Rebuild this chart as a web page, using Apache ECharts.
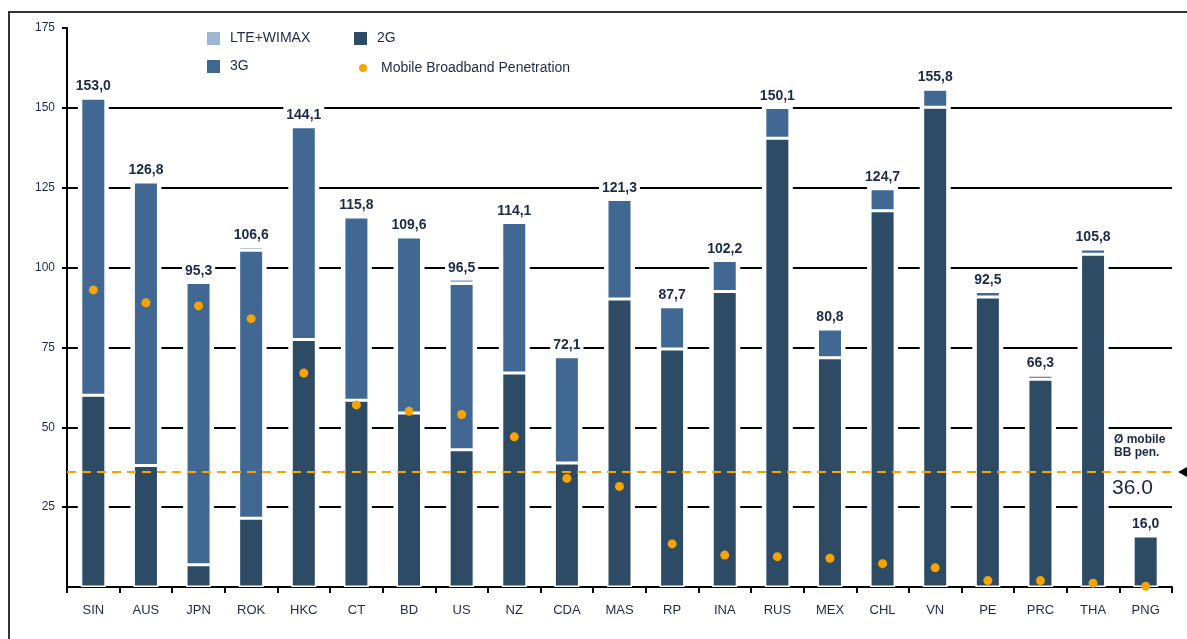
<!DOCTYPE html>
<html><head><meta charset="utf-8">
<script src="https://cdn.jsdelivr.net/npm/echarts@6/dist/echarts.min.js"></script>
<style>html,body{margin:0;padding:0;background:#fff}#c{width:1187px;height:639px}</style>
</head><body><div id="c"></div>
<script>
const categories = ['SIN','AUS','JPN','ROK','HKC','CT','BD','US','NZ','CDA','MAS','RP','INA','RUS','MEX','CHL','VN','PE','PRC','THA','PNG'];
const totals = [153.0,126.8,95.3,106.6,144.1,115.8,109.6,96.5,114.1,72.1,121.3,87.7,102.2,150.1,80.8,124.7,155.8,92.5,66.3,105.8,16.0];
const values2G = [60,38,7,21.5,77.5,58.5,54.5,43,67,38.8,90.2,74.5,92.5,140.5,71.8,117.8,150.2,90.8,65,104.2,16];
const values3G = [93,88.8,88.3,83.9,66.6,57.3,55.1,52,47.1,33.3,31.1,13.2,9.7,9.6,9,6.9,5.6,1.7,1.3,1.6,0];
const valuesLTE = [0,0,0,1.2,0,0,0,1.5,0,0,0,0,0,0,0,0,0,0,0,0,0];
const penetration = [93,89,88,84,67,57,55,54,47,34,31.5,13.5,10,9.5,9,7.3,6,2,2,1.2,0.2];
const avgPenetration = 36.0;
const yMin = 0, yMax = 175, yStep = 25;

const C2G = '#2E4B66', C3G = '#406892', CLTE = '#9DB5CF', CORANGE = '#F7A400', TXT = '#1C2A48';
const FONT = '"Liberation Sans", Arial, sans-serif';

const chart = echarts.init(document.getElementById('c'), null, {renderer: 'canvas'});
const barStyle = (c) => ({color: c, borderColor: '#fff', borderWidth: 1.5});
const legendBase = {orient: 'horizontal', itemWidth: 15, itemHeight: 15, itemGap: 10, padding: 0, selectedMode: false,
  textStyle: {fontFamily: FONT, fontSize: 14, color: TXT, padding: [0, 0, 0, 4]}};

const option = {
  animation: false,
  backgroundColor: '#fff',
  textStyle: {fontFamily: FONT},
  grid: {left: 67, right: 15, top: 28, bottom: 52, containLabel: false},
  legend: [
    Object.assign({}, legendBase, {left: 205, top: 30, data: [{name: 'LTE+WIMAX', icon: 'rect'}]}),
    Object.assign({}, legendBase, {left: 352, top: 30, data: [{name: '2G', icon: 'rect'}]}),
    Object.assign({}, legendBase, {left: 205, top: 58, data: [{name: '3G', icon: 'rect'}]}),
    Object.assign({}, legendBase, {left: 359, top: 61, itemWidth: 8, itemHeight: 8,
      textStyle: {fontFamily: FONT, fontSize: 14, color: TXT, padding: [0, 0, 0, 9]},
      data: [{name: 'Mobile Broadband Penetration', icon: 'circle'}]})
  ],
  xAxis: {
    type: 'category', data: categories, boundaryGap: true,
    axisLine: {lineStyle: {color: '#000', width: 2}},
    axisTick: {show: true, length: 6, lineStyle: {color: '#000', width: 2}},
    axisLabel: {color: TXT, fontSize: 13, margin: 17, fontFamily: FONT}
  },
  yAxis: {
    type: 'value', min: yMin, max: yMax, interval: yStep,
    axisLine: {show: true, lineStyle: {color: '#000', width: 2}},
    axisTick: {show: true, length: 5, lineStyle: {color: '#000', width: 2}},
    axisLabel: {color: TXT, fontSize: 12, margin: 12, showMinLabel: false, fontFamily: FONT},
    splitLine: {show: true, showMinLine: false, showMaxLine: false, lineStyle: {color: '#000', width: 2}}
  },
  series: [
    {name: 'gap', type: 'custom', z: 1, silent: true, data: totals,
      renderItem: (params, api) => {
        const top = api.coord([api.value(0), api.value(1)]);
        const base = api.coord([api.value(0), 0]);
        const w = 31;
        return {type: 'rect', shape: {x: top[0] - w / 2, y: top[1] - 2, width: w, height: base[1] - top[1] + 1},
          style: {fill: '#fff'}};
      }},
    {name: '2G', type: 'bar', stack: 'total', data: values2G, barWidth: 25, itemStyle: barStyle(C2G)},
    {name: '3G', type: 'bar', stack: 'total', data: values3G, barWidth: 25, itemStyle: barStyle(C3G)},
    {name: 'LTE+WIMAX', type: 'bar', stack: 'total', data: valuesLTE, barWidth: 25, itemStyle: barStyle(CLTE),
      label: {show: true, position: 'top', distance: 4, color: TXT, fontSize: 14, fontWeight: 'bold', fontFamily: FONT,
        backgroundColor: '#fff', padding: [1, 3, 0, 3],
        formatter: (p) => totals[p.dataIndex].toFixed(1).replace('.', ',')}},
    {name: 'Mobile Broadband Penetration', type: 'scatter', data: penetration, symbol: 'circle', symbolSize: 9,
      itemStyle: {color: CORANGE, opacity: 1}, z: 5,
      markLine: {silent: true, symbol: ['none', 'none'], label: {show: false},
        lineStyle: {color: CORANGE, type: [9, 6], width: 2, opacity: 1},
        data: [{yAxis: avgPenetration}]}}
  ]
};
chart.setOption(option);

const yAvg = chart.convertToPixel({yAxisIndex: 0}, avgPenetration);
const y50 = chart.convertToPixel({yAxisIndex: 0}, 50);
const xEnd = 1187 - 15;
chart.setOption({
  graphic: [
    {type: 'rect', shape: {x: 9, y: 12, width: 1300, height: 800}, style: {fill: 'none', stroke: '#333', lineWidth: 2}, silent: true},
    {type: 'text', x: xEnd - 58, y: y50 + 6, style: {text: 'Ø mobile\nBB pen.', fill: TXT, font: 'bold 12px ' + FONT, lineHeight: 13}, z: 10},
    {type: 'text', x: xEnd - 60, y: yAvg + 6, style: {text: avgPenetration.toFixed(1), fill: TXT, font: '21px ' + FONT}, z: 10},
    {type: 'polygon', shape: {points: [[xEnd + 6, yAvg], [xEnd + 15, yAvg - 5], [xEnd + 15, yAvg + 5]]}, style: {fill: '#000'}, z: 10}
  ]
});
</script></body></html>
